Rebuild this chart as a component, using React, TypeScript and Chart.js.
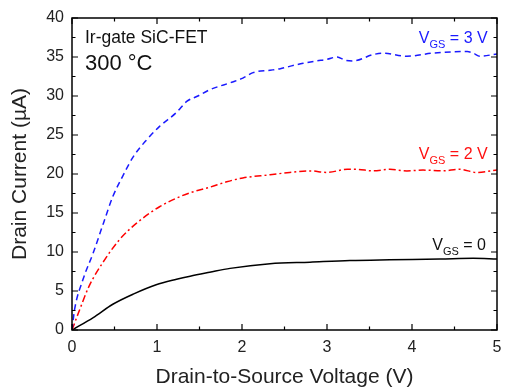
import React, { useEffect, useRef } from "react";
import { Chart, registerables } from "chart.js";

Chart.register(...registerables);

const xTicks = [0, 1, 2, 3, 4, 5];
const yTicks = [0, 5, 10, 15, 20, 25, 30, 35, 40];

const vgs3X = [0, 0.03, 0.13, 0.25, 0.37, 0.48, 0.6, 0.72, 0.88, 1.03, 1.23, 1.35, 1.48, 1.62, 1.89, 2.01, 2.13, 2.33, 2.45, 2.56, 2.72, 2.88, 3.0, 3.12, 3.21, 3.31, 3.54, 3.66, 3.94, 4.25, 4.65, 4.72, 4.8, 5.0];
const vgs3Y = [0, 2.6, 6.5, 9.9, 13.7, 17.1, 19.8, 22.2, 24.4, 26.1, 27.9, 29.3, 30.0, 30.8, 31.8, 32.3, 33.0, 33.3, 33.5, 33.8, 34.2, 34.5, 34.7, 35.0, 34.6, 34.5, 35.3, 35.5, 35.1, 35.5, 35.7, 35.5, 35.1, 35.4];

const vgs2X = [0, 0.09, 0.2, 0.36, 0.56, 0.76, 1.03, 1.27, 1.39, 1.62, 1.82, 2.01, 2.33, 2.56, 2.8, 3.0, 3.24, 3.35, 3.54, 3.74, 3.94, 4.13, 4.36, 4.56, 4.76, 5.0];
const vgs2Y = [0, 2.6, 5.6, 8.6, 11.6, 13.7, 15.8, 17.1, 17.6, 18.3, 19.0, 19.5, 19.9, 20.2, 20.4, 20.2, 20.6, 20.6, 20.4, 20.6, 20.4, 20.5, 20.4, 20.6, 20.2, 20.5];

const vgs0X = [0, 0.25, 0.48, 0.72, 0.99, 1.23, 1.39, 1.62, 1.86, 2.33, 2.8, 3.27, 3.74, 4.33, 4.72, 5.0];
const vgs0Y = [0, 1.6, 3.3, 4.6, 5.8, 6.5, 6.9, 7.4, 7.9, 8.5, 8.7, 8.9, 9.0, 9.1, 9.2, 9.1];

const FONT = "Arial, 'Liberation Sans', sans-serif";

const pts = (xs: number[], ys: number[]) => xs.map((x, i) => ({ x, y: ys[i] }));

const framePlugin = {
  id: "frameTicks",
  afterDatasetsDraw(chart: any) {
    const { ctx, chartArea, scales } = chart;
    const { left, right, top, bottom } = chartArea;
    const xs = scales.x;
    const ys = scales.y;
    ctx.save();
    ctx.strokeStyle = "#000";
    ctx.lineWidth = 1.5;
    ctx.setLineDash([]);
    ctx.strokeRect(left, top, right - left, bottom - top);
    ctx.lineWidth = 1.2;
    ctx.beginPath();
    for (let v = 0; v <= 5.001; v += 0.5) {
      const px = xs.getPixelForValue(v);
      const len = Math.abs(v - Math.round(v)) < 1e-6 ? 6 : 3.5;
      ctx.moveTo(px, bottom);
      ctx.lineTo(px, bottom - len);
      ctx.moveTo(px, top);
      ctx.lineTo(px, top + len);
    }
    for (let v = 0; v <= 40.001; v += 2.5) {
      const py = ys.getPixelForValue(v);
      const len = Math.abs(v / 5 - Math.round(v / 5)) < 1e-6 ? 6 : 3.5;
      ctx.moveTo(left, py);
      ctx.lineTo(left + len, py);
      ctx.moveTo(right, py);
      ctx.lineTo(right - len, py);
    }
    ctx.stroke();

    // annotations
    const X = (v: number) => xs.getPixelForValue(v);
    const Y = (v: number) => ys.getPixelForValue(v);
    ctx.fillStyle = "#111";
    ctx.textBaseline = "alphabetic";
    ctx.textAlign = "left";
    ctx.font = `17.5px ${FONT}`;
    ctx.fillText("Ir-gate SiC-FET", X(0.153), Y(36.8));
    ctx.font = `22px ${FONT}`;
    ctx.fillText("300 °C", X(0.153), Y(33.3));

    const label = (rest: string, color: string, xr: number, yb: number) => {
      ctx.fillStyle = color;
      ctx.font = `16px ${FONT}`;
      const wRest = ctx.measureText(rest).width;
      const wV = ctx.measureText("V").width;
      ctx.font = `11px ${FONT}`;
      const wSub = ctx.measureText("GS").width;
      const xEnd = X(xr);
      const x0 = xEnd - wRest - wSub - wV;
      const yb0 = Y(yb);
      ctx.font = `16px ${FONT}`;
      ctx.fillText("V", x0, yb0);
      ctx.font = `11px ${FONT}`;
      ctx.fillText("GS", x0 + wV, yb0 + 5);
      ctx.font = `16px ${FONT}`;
      ctx.fillText(rest, x0 + wV + wSub, yb0);
    };
    label(" = 3 V", "#1a1aff", 4.89, 36.8);
    label(" = 2 V", "#ff1010", 4.89, 21.9);
    label(" = 0", "#111", 4.87, 10.26);
    ctx.restore();
  },
};

export default function App() {
  const ref = useRef<HTMLCanvasElement | null>(null);
  useEffect(() => {
    if (!ref.current) return;
    const chart = new Chart(ref.current, {
      type: "line",
      data: {
        datasets: [
          {
            label: "VGS = 3 V",
            data: pts(vgs3X, vgs3Y),
            borderColor: "#1a1aff",
            borderWidth: 1.5,
            borderDash: [6, 4],
            pointRadius: 0,
            cubicInterpolationMode: "monotone",
            fill: false,
          },
          {
            label: "VGS = 2 V",
            data: pts(vgs2X, vgs2Y),
            borderColor: "#ff0000",
            borderWidth: 1.5,
            borderDash: [7, 3, 2, 3],
            pointRadius: 0,
            cubicInterpolationMode: "monotone",
            fill: false,
          },
          {
            label: "VGS = 0",
            data: pts(vgs0X, vgs0Y),
            borderColor: "#000000",
            borderWidth: 1.5,
            pointRadius: 0,
            cubicInterpolationMode: "monotone",
            fill: false,
          },
        ],
      },
      options: {
        animation: false,
        responsive: false,
        maintainAspectRatio: false,
        layout: { padding: { top: 18, right: 8, bottom: 0, left: 0 } },
        plugins: {
          legend: { display: false },
          tooltip: { enabled: false },
        },
        scales: {
          x: {
            type: "linear",
            min: 0,
            max: 5,
            grid: { display: false, drawTicks: false },
            border: { display: false },
            afterBuildTicks: (s: any) => {
              s.ticks = xTicks.map((v) => ({ value: v }));
            },
            afterFit: (s: any) => {
              s.height = 58;
              s.paddingLeft = 0;
              s.paddingRight = 0;
            },
            ticks: {
              color: "#222",
              font: { family: FONT, size: 16 },
              padding: 8,
              maxRotation: 0,
            },
            title: {
              display: true,
              text: "Drain-to-Source Voltage (V)",
              color: "#222",
              font: { family: FONT, size: 21, lineHeight: 1 },
              padding: { top: 0, bottom: 0 },
            },
          },
          y: {
            type: "linear",
            min: 0,
            max: 40,
            grid: { display: false, drawTicks: false },
            border: { display: false },
            afterBuildTicks: (s: any) => {
              s.ticks = yTicks.map((v) => ({ value: v }));
            },
            afterFit: (s: any) => {
              s.width = 72;
              s.paddingTop = 0;
              s.paddingBottom = 0;
            },
            ticks: {
              color: "#222",
              font: { family: FONT, size: 16 },
              padding: 8,
            },
            title: {
              display: true,
              text: "Drain Current (µA)",
              color: "#222",
              font: { family: FONT, size: 21, lineHeight: 1 },
              padding: { top: 9.5, bottom: 0 },
            },
          },
        },
      },
      plugins: [framePlugin],
    });
    return () => chart.destroy();
  }, []);
  return (
    <div style={{ position: "absolute", left: 0, top: 0, width: 505, height: 388, background: "#fff" }}>
      <canvas ref={ref} width={505} height={388} style={{ display: "block" }} />
    </div>
  );
}
